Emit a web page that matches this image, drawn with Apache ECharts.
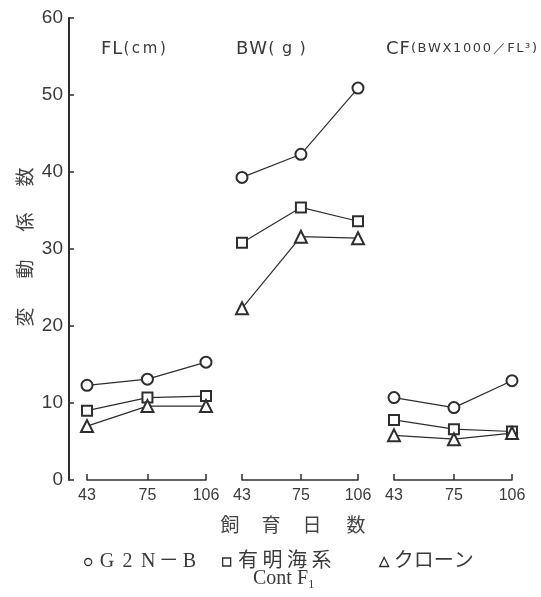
<!DOCTYPE html>
<html>
<head>
<meta charset="utf-8">
<script src="https://cdn.jsdelivr.net/npm/echarts@6/dist/echarts.min.js"></script>
<style>html,body{margin:0;padding:0;background:#fff;}#c{width:541px;height:597px;}</style>
</head>
<body>
<div id="c"></div>
<script>
// ---- data ----
const days = [43, 75, 106];
const yTicks = [0, 10, 20, 30, 40, 50, 60];
const seriesNames = ['G 2 N－B', '有明海系 ContF₁', 'クローン'];
const legendLines = [['G', '2', 'N', '－', 'B'], ['有', '明', '海', '系'], ['ク', 'ロ', 'ー', 'ン']];
const legendSecondLine = 'Cont F₁';
const panelTitleMain = ['FL', 'BW', 'CF'];
const panelTitleUnit = ['(cm)', '(g)', '(BWX1000／FL³)'];
const flG2NB = [12.3, 13.1, 15.3];
const flAriake = [9.0, 10.7, 10.9];
const flClone = [7.0, 9.6, 9.6];
const bwG2NB = [39.3, 42.3, 50.9];
const bwAriake = [30.8, 35.4, 33.6];
const bwClone = [22.3, 31.6, 31.4];
const cfG2NB = [10.7, 9.4, 12.9];
const cfAriake = [7.8, 6.6, 6.3];
const cfClone = [5.8, 5.3, 6.1];
const yAxisName = ['変', '動', '係', '数'];
const xAxisName = ['飼', '育', '日', '数'];

// ---- chart ----
const ink = '#2e2e2e';
const txt = '#3a3a3a';
const panels = [[flG2NB, flAriake, flClone], [bwG2NB, bwAriake, bwClone], [cfG2NB, cfAriake, cfClone]];
const symbols = ['emptyCircle', 'emptyRect', 'emptyTriangle'];
const sizes = [11, 10, 12];
const grids = [
  {left: 87, width: 119, top: 18, height: 462},
  {left: 242, width: 116, top: 18, height: 462},
  {left: 394, width: 118, top: 18, height: 462}
];
const xAxes = grids.map((g, i) => ({
  gridIndex: i, type: 'value', min: days[0], max: days[days.length - 1],
  axisLine: {show: true, onZero: false, lineStyle: {color: ink, width: 1.5}},
  axisTick: {show: true, inside: true, length: 6, customValues: days, lineStyle: {color: ink, width: 1.5}},
  axisLabel: {customValues: days, fontSize: 16, color: txt, margin: 8, fontFamily: 'Liberation Sans'},
  splitLine: {show: false}
}));
const yAxes = grids.map((g, i) => ({
  gridIndex: i, type: 'value', min: yTicks[0], max: yTicks[yTicks.length - 1], interval: 10,
  show: i === 0, offset: 18,
  axisLine: {show: true, lineStyle: {color: ink, width: 2}},
  axisTick: {show: true, inside: true, length: 5, lineStyle: {color: ink, width: 1.5}},
  axisLabel: {fontSize: 19, color: txt, margin: 6, fontFamily: 'Liberation Sans'},
  splitLine: {show: false}
}));
const series = [];
panels.forEach((p, i) => {
  p.forEach((vals, k) => {
    series.push({
      type: 'line', name: seriesNames[k], xAxisIndex: i, yAxisIndex: i,
      data: vals.map((v, j) => [days[j], v]),
      symbol: symbols[k], symbolSize: sizes[k], showAllSymbol: true,
      lineStyle: {color: ink, width: 1.2},
      itemStyle: {color: ink, borderColor: ink, borderWidth: 1.3},
      emphasis: {disabled: true}, animation: false, z: 2 + k
    });
  });
});
const legendCfg = [
  {left: 79, icon: 'circle', w: 7, cw: 20.6},
  {left: 217, icon: 'rect', w: 8, cw: 24.5},
  {left: 374, icon: 'triangle', w: 9, cw: 20}
];
const legends = legendCfg.map((l, k) => ({
  left: l.left, top: 547, orient: 'horizontal',
  data: [{name: seriesNames[k], icon: l.icon}],
  itemWidth: l.w, itemHeight: l.w, selectedMode: false,
  itemStyle: {color: '#fff', borderColor: ink, borderWidth: 1.3},
  lineStyle: {width: 0},
  formatter: () => legendLines[k].map(c => '{c|' + c + '}').join(''),
  textStyle: {
    fontSize: 20, color: txt, fontFamily: 'Liberation Serif, Noto Sans CJK JP',
    rich: {c: {fontSize: 20, color: txt, fontFamily: 'Liberation Serif, Noto Sans CJK JP', width: l.cw, align: 'center'}}
  }
}));
const graphic = [];
const titleLeft = [101, 236, 386];
const titleSpacing = [[1, 2.6], [1, 7.5], [1, 1.6]];
const unitSize = [15, 16, 13];
panelTitleMain.forEach((t, i) => {
  const rich = {
    a: {fontSize: 18, fill: txt, fontFamily: 'DejaVu Sans', padding: [0, titleSpacing[i][0], 0, 0]},
    b: {fontSize: unitSize[i], fill: txt, fontFamily: 'DejaVu Sans', padding: [0, titleSpacing[i][1], 0, 0]}
  };
  const text = t.split('').map(c => '{a|' + c + '}').join('') +
    panelTitleUnit[i].split('').map(c => '{b|' + c + '}').join('');
  graphic.push({type: 'text', left: titleLeft[i], top: 40, style: {text: text, rich: rich}});
});
// y axis name (rotated, reading bottom to top)
const yCenters = [317, 269, 222, 177];
yAxisName.forEach((ch, i) => {
  graphic.push({type: 'text', x: 25, y: yCenters[i], rotation: Math.PI / 2,
    style: {text: ch, fontSize: 19, fill: '#444', fontFamily: 'Noto Sans CJK JP', align: 'center', verticalAlign: 'middle'}});
});
const xCenters = [230, 271, 312, 356];
xAxisName.forEach((ch, i) => {
  graphic.push({type: 'text', x: xCenters[i], y: 525,
    style: {text: ch, fontSize: 19, fill: '#444', fontFamily: 'Noto Sans CJK JP', align: 'center', verticalAlign: 'middle'}});
});
graphic.push({type: 'text', left: 253, top: 569, style: {text: legendSecondLine, fontSize: 20, fill: txt, fontFamily: 'Liberation Serif, DejaVu Serif'}});

const chart = echarts.init(document.getElementById('c'), null, {renderer: 'canvas'});
chart.setOption({
  backgroundColor: '#fff',
  animation: false,
  grid: grids,
  xAxis: xAxes,
  yAxis: yAxes,
  legend: legends,
  series: series,
  graphic: graphic
});
</script>
</body>
</html>
